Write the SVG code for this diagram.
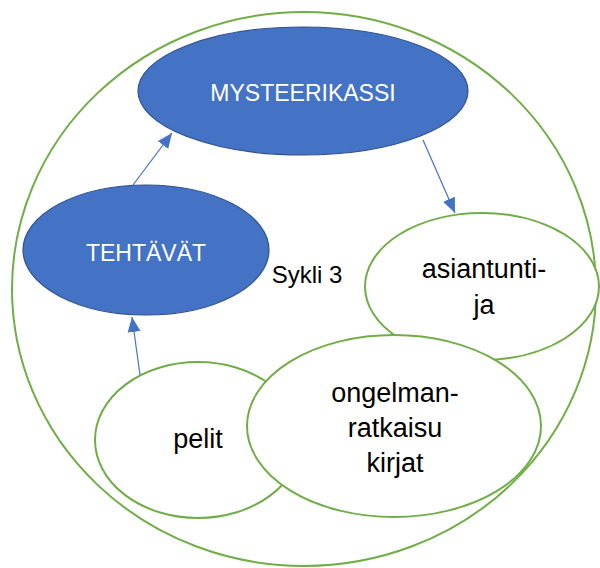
<svg xmlns="http://www.w3.org/2000/svg" width="600" height="568" viewBox="0 0 600 568">
<style>
.blue{fill:#4472C4;stroke:#2F528F;stroke-width:1.2}
.green{fill:#fff;stroke:#70AD47;stroke-width:2}
.wt{fill:#fff;font-family:"Liberation Sans",Arial,sans-serif;font-size:23px;text-anchor:middle}
.bt{fill:#000;font-family:"Liberation Sans",Arial,sans-serif;font-size:27px;text-anchor:middle}
.conn{stroke:#4472C4;stroke-width:1.2;fill:none}
</style>
<defs>
<marker id="ah" markerUnits="userSpaceOnUse" markerWidth="16" markerHeight="14" refX="15" refY="7" orient="auto">
<path d="M0,0.5 L15,7 L0,13.5 Z" fill="#4472C4"/>
</marker>
</defs>
<rect width="600" height="568" fill="#fff"/>
<g id="sykli"><ellipse cx="304" cy="289" rx="292" ry="277" fill="none" stroke="#70AD47" stroke-width="2"/>
<text class="bt" x="307" y="283" style="font-size:24px">Sykli 3</text></g>
<g id="mysteerikassi"><ellipse class="blue" cx="303" cy="91" rx="165" ry="64"/><text class="wt" x="303" y="101">MYSTEERIKASSI</text></g>
<g id="tehtavat"><ellipse class="blue" cx="146" cy="250" rx="123" ry="65"/><text class="wt" x="146" y="261">TEHTÄVÄT</text></g>
<g id="asiantuntija"><ellipse class="green" cx="482" cy="286.5" rx="117" ry="73.5"/><text class="bt" x="484" y="278">asiantunti-</text><text class="bt" x="484" y="314">ja</text></g>
<g id="pelit"><ellipse class="green" cx="198" cy="440" rx="103" ry="78"/><text class="bt" x="198" y="448">pelit</text></g>
<g id="ongelmanratkaisu"><ellipse class="green" cx="394" cy="426" rx="147" ry="91"/><text class="bt" x="395" y="402">ongelman-</text><text class="bt" x="395" y="437">ratkaisu</text><text class="bt" x="395" y="472">kirjat</text></g>
<g id="connectors">
<line class="conn" x1="133" y1="185" x2="172" y2="133" marker-end="url(#ah)"/>
<line class="conn" x1="423" y1="140" x2="455" y2="213" marker-end="url(#ah)"/>
<line class="conn" x1="140" y1="375" x2="132" y2="317" marker-end="url(#ah)"/>
</g>
</svg>
